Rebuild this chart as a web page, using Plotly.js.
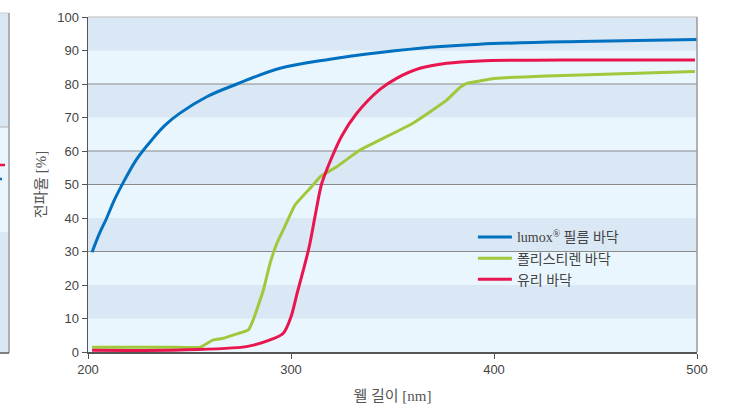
<!DOCTYPE html>
<html><head><meta charset="utf-8">
<script src="https://cdn.plot.ly/plotly-3.0.1.min.js"></script>
<style>html,body{margin:0;padding:0;background:#fff;}#chart{width:731px;height:409px;}</style>
</head><body><div id="chart"></div>
<script>
const lumoxX = [202, 205.5, 209, 213, 218, 224, 231.4, 238, 245.3, 258.5, 273.4, 294.6, 319.2, 343.8, 368.5, 393, 442, 500];
const lumoxY = [29.8, 35.2, 39.7, 45.4, 51.3, 57.6, 63.3, 67.7, 71.3, 76.2, 80, 84.7, 87.4, 89.4, 91.0, 91.9, 92.7, 93.3];

const psX = [202, 245, 255.2, 261.7, 266.7, 273.3, 279, 281.4, 286.4, 289.7, 293, 297, 302, 311, 314.3, 322.5, 334, 343.8, 360, 376.7, 383.3, 386.6, 401.3, 426, 499];
const psY = [1.4, 1.4, 1.4, 3.6, 4.1, 5.4, 6.6, 9.6, 18.5, 26.5, 32.4, 37.5, 43.9, 49.9, 52.3, 55.3, 60.3, 63.3, 68.3, 75.2, 79, 80.2, 81.7, 82.4, 83.7];

const glassX = [202, 245.3, 278, 289.7, 296.2, 300, 303, 306.1, 309, 312, 315, 319, 325, 332.3, 343.8, 352, 363.5, 376.7, 393, 442, 499];
const glassY = [0.5, 0.6, 1.6, 3.6, 5.6, 10.5, 17.5, 24.5, 31.5, 41, 50, 56.5, 64.5, 71.2, 78.4, 81.7, 84.7, 86.2, 86.9, 87.2, 87.2];

const seriesNames = ['lumox<sup>®</sup> 필름 바닥', '폴리스티렌 바닥', '유리 바닥'];
const yTicks = [0,10,20,30,40,50,60,70,80,90,100];
const xTicks = [200,300,400,500];
const darkBands = [[10,20],[30,40],[50,60],[70,80],[90,100]];
const gridLevels = [30,50,60,80];

const shapes = [];
darkBands.forEach(b => shapes.push({type:'rect', xref:'paper', yref:'y', x0:0, x1:1, y0:b[0], y1:b[1], fillcolor:'#dae7f4', line:{width:0}, layer:'below'}));
gridLevels.forEach(g => shapes.push({type:'line', xref:'paper', yref:'y', x0:0, x1:1, y0:g, y1:g, line:{color:'#8a8a8a', width:1}, layer:'below'}));
shapes.push({type:'line', xref:'paper', yref:'paper', x0:0, x1:1, y0:1, y1:1, line:{color:'#cfcfcf', width:1.5}});
shapes.push({type:'line', xref:'paper', yref:'paper', x0:1, x1:1, y0:0, y1:1, line:{color:'#9a9a9a', width:1.5}});
const px = p => (p-88)/609, py = p => (352-p)/335;
shapes.push({type:'rect', xref:'paper', yref:'paper', x0:px(-2), x1:px(9), y0:py(127), y1:py(13), fillcolor:'#dae7f4', line:{width:0}});
shapes.push({type:'rect', xref:'paper', yref:'paper', x0:px(-2), x1:px(9), y0:py(232), y1:py(127), fillcolor:'#eaf6fd', line:{width:0}});
shapes.push({type:'rect', xref:'paper', yref:'paper', x0:px(-2), x1:px(9), y0:py(352), y1:py(232), fillcolor:'#dae7f4', line:{width:0}});
shapes.push({type:'line', xref:'paper', yref:'paper', x0:px(-2), x1:px(9), y0:py(127), y1:py(127), line:{color:'#b0b0b0', width:1}});
shapes.push({type:'line', xref:'paper', yref:'paper', x0:px(-2), x1:px(9), y0:py(13), y1:py(13), line:{color:'#cfcfcf', width:1}});
shapes.push({type:'line', xref:'paper', yref:'paper', x0:px(9), x1:px(9), y0:py(353), y1:py(13), line:{color:'#9a9a9a', width:1.5}});
shapes.push({type:'line', xref:'paper', yref:'paper', x0:px(-2), x1:px(9), y0:py(353), y1:py(353), line:{color:'#555', width:1.5}});
shapes.push({type:'line', xref:'paper', yref:'paper', x0:px(-2), x1:px(5), y0:py(165), y1:py(165), line:{color:'#e8154f', width:2.5}});
shapes.push({type:'line', xref:'paper', yref:'paper', x0:px(-2), x1:px(2), y0:py(179), y1:py(179), line:{color:'#0070c0', width:2.5}});

const fam = 'Liberation Serif, Noto Sans CJK KR, serif';
const traces = [
  {x: lumoxX, y: lumoxY, name: seriesNames[0], mode:'lines', line:{color:'#0070c0', width:3, shape:'spline', smoothing:1}},
  {x: psX, y: psY, name: seriesNames[1], mode:'lines', line:{color:'#a0c83c', width:3, shape:'spline', smoothing:0.4}},
  {x: glassX, y: glassY, name: seriesNames[2], mode:'lines', line:{color:'#e8154f', width:3, shape:'spline', smoothing:0.8}}
];

const layout = {
  width:731, height:409,
  margin:{l:88, r:34, t:17, b:57},
  paper_bgcolor:'#ffffff', plot_bgcolor:'#eaf6fd',
  showlegend:true,
  legend:{x:0.632, y:0.39, xanchor:'left', yanchor:'top', bgcolor:'rgba(0,0,0,0)', font:{family:fam, size:14, color:'#444'}, tracegroupgap:0, itemwidth:34},
  xaxis:{range:[200,500], tickvals:xTicks, ticktext:xTicks.map(String), showgrid:false, zeroline:false,
    showline:true, linecolor:'#555', linewidth:1.5, ticks:'outside', ticklen:5, tickcolor:'#555',
    tickfont:{family:'Liberation Sans Narrow, Liberation Sans, Arial', size:13, color:'#444'},
    title:{text:'웰 길이 [nm]', font:{family:fam, size:15, color:'#555'}, standoff:14}},
  yaxis:{range:[0,100], tickvals:yTicks, ticktext:yTicks.map(String), showgrid:false, zeroline:false,
    showline:true, linecolor:'#555', linewidth:1.5, ticks:'outside', ticklen:5, tickcolor:'#555',
    tickfont:{family:'Liberation Sans Narrow, Liberation Sans, Arial', size:13, color:'#444'},
    title:{text:'전파율 [%]', font:{family:fam, size:15, color:'#555'}, standoff:7}},
  shapes: shapes
};
Plotly.newPlot('chart', traces, layout, {displayModeBar:false, staticPlot:true});
</script></body></html>
